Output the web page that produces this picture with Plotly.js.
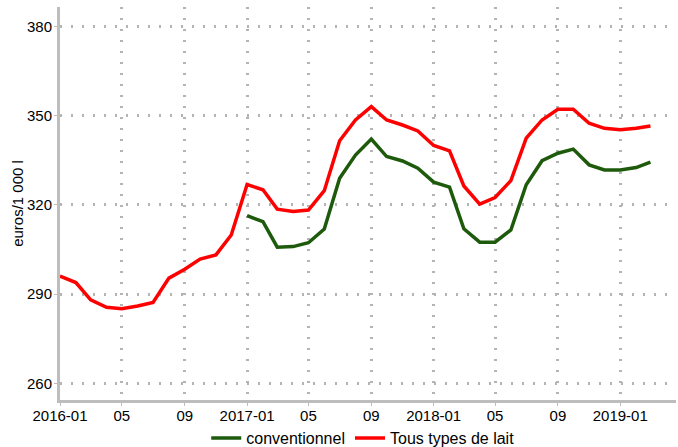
<!DOCTYPE html>
<html>
<head>
<meta charset="utf-8">
<script src="https://cdn.plot.ly/plotly-3.0.1.min.js"></script>
<style>
  html, body { margin: 0; padding: 0; background: #ffffff; }
  #chart { width: 678px; height: 447px; }
</style>
</head>
<body>
<div id="chart"></div>
<script>
//------------------------------------ données - start ------------------------------------
var mois = [
  '2016-01', '2016-02', '2016-03', '2016-04', '2016-05', '2016-06', '2016-07', '2016-08',
  '2016-09', '2016-10', '2016-11', '2016-12', '2017-01', '2017-02', '2017-03', '2017-04',
  '2017-05', '2017-06', '2017-07', '2017-08', '2017-09', '2017-10', '2017-11', '2017-12',
  '2018-01', '2018-02', '2018-03', '2018-04', '2018-05', '2018-06', '2018-07', '2018-08',
  '2018-09', '2018-10', '2018-11', '2018-12', '2019-01', '2019-02', '2019-03'
];

// prix du lait, tous types (euros/1 000 l)
var tous_types = [
  296.1, 293.9, 288.1, 285.6, 285.1, 286.0, 287.2, 295.4,
  298.4, 301.8, 303.2, 309.9, 326.9, 325.1, 318.6, 317.8,
  318.3, 324.8, 341.6, 348.6, 353.1, 348.6, 346.9, 344.9,
  340.0, 338.2, 326.4, 320.3, 322.5, 328.2, 342.5, 348.6,
  352.2, 352.2, 347.5, 345.8, 345.3, 345.8, 346.6
];

// lait conventionnel, série disponible à partir de 2017-01
var conventionnel = [
  null, null, null, null, null, null, null, null,
  null, null, null, null, 316.4, 314.4, 305.8, 306.0,
  307.3, 311.9, 329.0, 336.8, 342.2, 336.3, 334.8, 332.4,
  327.7, 326.0, 312.0, 307.5, 307.5, 311.6, 326.8, 334.9,
  337.4, 338.8, 333.5, 331.8, 331.8, 332.6, 334.4
];

var x_ticks = ['2016-01', '2016-05', '2016-09', '2017-01', '2017-05', '2017-09',
               '2018-01', '2018-05', '2018-09', '2019-01'];
var x_ticktext = ['2016-01', '05', '09', '2017-01', '05', '09', '2018-01', '05', '09', '2019-01'];
var y_ticks = [260, 290, 320, 350, 380];
//------------------------------------ données - end ------------------------------------

var police = { family: 'Liberation Sans, Arial, sans-serif', size: 15, color: '#000000' };

var trace_conv = {
  x: mois,
  y: conventionnel,
  type: 'scatter',
  mode: 'lines',
  name: 'conventionnel',
  line: { color: '#1e5a0c', width: 3.5 },
  connectgaps: false
};

var trace_tous = {
  x: mois,
  y: tous_types,
  type: 'scatter',
  mode: 'lines',
  name: 'Tous types de lait',
  line: { color: '#ff0000', width: 3.5 }
};

var layout = {
  width: 678,
  height: 447,
  margin: { t: 7, r: 2, l: 60, b: 47 },
  paper_bgcolor: '#ffffff',
  plot_bgcolor: '#ffffff',
  font: police,
  showlegend: true,
  xaxis: {
    type: 'date',
    range: ['2016-01-01', '2019-04-20'],
    tickvals: x_ticks,
    ticktext: x_ticktext,
    tickfont: police,
    showgrid: true,
    gridcolor: '#b4b4b4',
    gridwidth: 2.5,
    griddash: '2px,9px',
    showline: true,
    linecolor: '#bdbdbd',
    linewidth: 3,
    ticks: 'outside',
    ticklen: 3,
    tickcolor: '#bdbdbd',
    ticklabelstandoff: -3,
    zeroline: false
  },
  yaxis: {
    range: [254.4, 386.6],
    tickvals: y_ticks,
    tickfont: police,
    title: { text: 'euros/1 000 l', font: police, standoff: 0 },
    showgrid: true,
    gridcolor: '#b4b4b4',
    gridwidth: 2.5,
    griddash: '2px,9px',
    showline: true,
    linecolor: '#bdbdbd',
    linewidth: 3,
    ticks: 'outside',
    ticklen: 3,
    tickcolor: '#bdbdbd',
    ticklabelstandoff: -1,
    zeroline: false
  },
  legend: {
    orientation: 'h',
    xref: 'container',
    yref: 'container',
    x: 0.535,
    xanchor: 'center',
    y: 0.02,
    yanchor: 'middle',
    bgcolor: 'rgba(0,0,0,0)',
    font: { family: 'Liberation Sans, Arial, sans-serif', size: 16, color: '#000000' },
    itemwidth: 30,
    tracegroupgap: 0
  }
};

Plotly.newPlot('chart', [trace_conv, trace_tous], layout, { displayModeBar: false, displaylogo: false });
</script>
</body>
</html>
